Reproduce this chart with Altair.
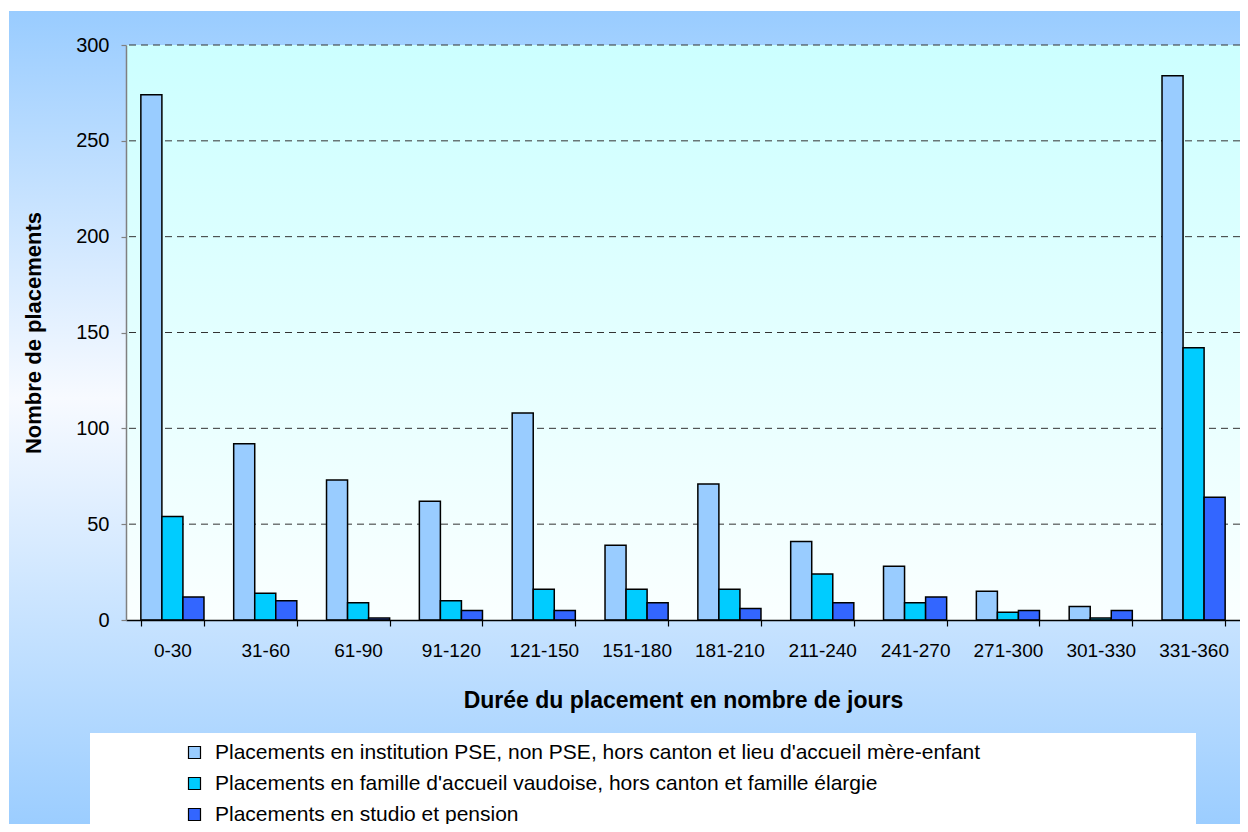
import altair as alt
import pandas as pd

categories = ["0-30", "31-60", "61-90", "91-120", "121-150", "151-180",
              "181-210", "211-240", "241-270", "271-300", "301-330", "331-360"]
series_names = [
    "Placements en institution PSE, non PSE, hors canton et lieu d'accueil mère-enfant",
    "Placements en famille d'accueil vaudoise, hors canton et famille élargie",
    "Placements en studio et pension",
]
institution = [274, 92, 73, 62, 108, 39, 71, 41, 28, 15, 7, 284]
famille = [54, 14, 9, 10, 16, 16, 16, 24, 9, 4, 1, 142]
studio = [12, 10, 1, 5, 5, 9, 6, 9, 12, 5, 5, 64]
colors = ["#99CCFF", "#00CCFF", "#3366FF"]
grid_values = [50, 100, 150, 200, 250, 300]
tick_values = [0, 50, 100, 150, 200, 250, 300]

rows = []
for name, vals in zip(series_names, [institution, famille, studio]):
    for c, v in zip(categories, vals):
        rows.append({"cat": c, "series": name, "value": v})
df = pd.DataFrame(rows)

FONT = "Liberation Sans"
W, H = 1114, 575

one = alt.Data(values=[{}])

outer_bg = alt.Chart(one).mark_rect(
    fill=alt.LinearGradient(
        gradient="linear",
        stops=[alt.GradientStop(offset=0, color="#99CCFF"),
               alt.GradientStop(offset=0.47, color="#F7FAFF"),
               alt.GradientStop(offset=1, color="#99CCFF")],
        x1=0, x2=0, y1=0, y2=1),
    strokeWidth=0,
).encode(x=alt.value(-117), x2=alt.value(1130), y=alt.value(-34), y2=alt.value(790))

legend_box = alt.Chart(one).mark_rect(fill="white", strokeWidth=0).encode(
    x=alt.value(-36), x2=alt.value(1070), y=alt.value(688), y2=alt.value(800))

plot_bg = alt.Chart(one).mark_rect(
    fill=alt.LinearGradient(
        gradient="linear",
        stops=[alt.GradientStop(offset=0, color="#CCFFFF"),
               alt.GradientStop(offset=1, color="#FAFFFF")],
        x1=0, x2=0, y1=0, y2=1),
    strokeWidth=0,
).encode(x=alt.value(0), x2=alt.value(W), y=alt.value(0), y2=alt.value(H))

grid = alt.Chart(pd.DataFrame({"v": grid_values})).mark_rule(
    color="#333333", strokeWidth=1, strokeDash=[7, 5]
).encode(y=alt.Y("v:Q", scale=alt.Scale(domain=[0, 300], nice=False)))

bars = alt.Chart(df).mark_bar(stroke="black", strokeWidth=1.5).encode(
    x=alt.X("cat:N", sort=categories,
            scale=alt.Scale(paddingInner=0.32, paddingOuter=0.16),
            axis=alt.Axis(title="Durée du placement en nombre de jours",
                          labelAngle=0, labelFontSize=19, labelFont=FONT,
                          labelColor="black", labelPadding=15,
                          tickBand="extent", tickColor="black", tickSize=6,
                          tickWidth=1.2, zindex=2,
                          domainColor="black", domainWidth=1.5,
                          titleFont=FONT, titleFontSize=23, titleFontWeight="bold",
                          titleColor="black", titlePadding=29)),
    xOffset=alt.XOffset("series:N", sort=series_names),
    y=alt.Y("value:Q", scale=alt.Scale(domain=[0, 300], nice=False),
            axis=alt.Axis(title="Nombre de placements", values=tick_values,
                          grid=False, labelFontSize=20, labelFont=FONT,
                          labelColor="black", labelPadding=12, zindex=2,
                          tickColor="#808080", tickSize=5, tickWidth=1.2,
                          domainColor="#808080", domainWidth=1.5,
                          titleFont=FONT, titleFontSize=22, titleFontWeight="bold",
                          titleColor="black", titlePadding=30)),
    color=alt.Color("series:N", sort=series_names,
                    scale=alt.Scale(domain=series_names, range=colors),
                    legend=alt.Legend(title=None, orient="none",
                                      legendX=58, legendY=697,
                                      labelFont=FONT, labelFontSize=21,
                                      labelColor="black", labelLimit=2000,
                                      labelOffset=10,
                                      symbolType="square", symbolSize=144,
                                      symbolStrokeColor="black",
                                      symbolStrokeWidth=1.2,
                                      rowPadding=9, padding=0)),
)

chart = alt.layer(outer_bg, legend_box, plot_bg, grid, bars).resolve_scale(
    y="shared"
).properties(
    width=W, height=H,
    autosize=alt.AutoSizeParams(type="none"),
    padding={"left": 118, "top": 37, "right": 0, "bottom": 204},
    background="white",
).configure_view(strokeWidth=0)

chart.save("out.html", embed_options={"renderer": "svg", "actions": False})
